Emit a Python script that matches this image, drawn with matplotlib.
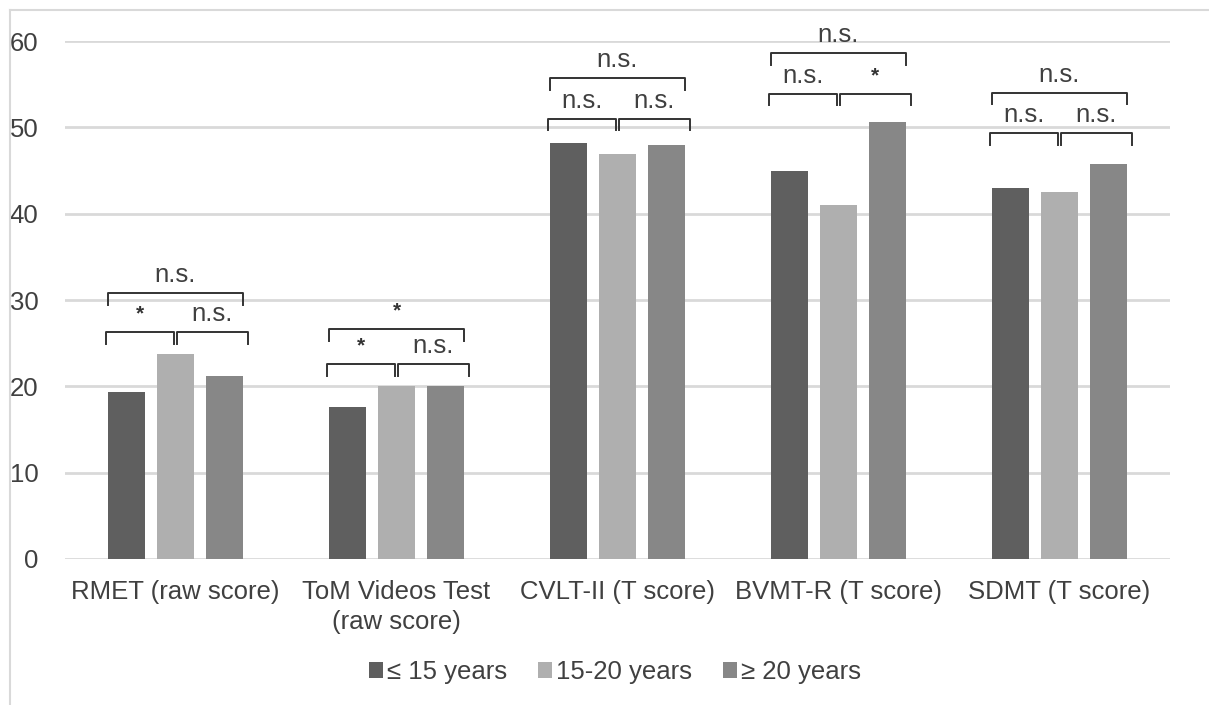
import matplotlib.pyplot as plt
import numpy as np
from matplotlib.lines import Line2D

categories = ["RMET (raw score)", "ToM Videos Test\n(raw score)", "CVLT-II (T score)",
              "BVMT-R (T score)", "SDMT (T score)"]
groups = ["≤ 15 years", "15-20 years", "≥ 20 years"]
low = [19.4, 17.6, 48.2, 44.9, 43.0]
mid = [23.8, 20.0, 46.9, 41.0, 42.5]
high = [21.2, 20.0, 48.0, 50.6, 45.8]

# significance labels: (dark vs light, light vs mid, dark vs mid)
sig_left = ["*", "*", "n.s.", "n.s.", "n.s."]
sig_right = ["n.s.", "n.s.", "n.s.", "*", "n.s."]
sig_top = ["n.s.", "*", "n.s.", "n.s.", "n.s."]
# bracket levels
lvl_low = [26.3, 22.6, 51.0, 53.9, 49.3]
lvl_top = [30.8, 26.6, 55.7, 58.6, 54.0]

colors = ["#5f5f5f", "#afafaf", "#878787"]
txt = "#404040"

plt.rcParams['font.family'] = ['Liberation Sans', 'DejaVu Sans']

fig = plt.figure(figsize=(12.09, 7.05), dpi=100)
ax = fig.add_axes([65/1209, 1-559/705, 1105/1209, 518/705])

x = np.arange(len(categories))
w = 0.168
off = 0.222
for i, vals in enumerate([low, mid, high]):
    ax.bar(x + (i-1)*off, vals, w, color=colors[i], label=groups[i], zorder=3)

ax.set_xlim(-0.5, 4.5)
ax.set_ylim(0, 60)
ax.set_yticks(range(0, 61, 10))
ax.yaxis.grid(True, color="#d9d9d9", linewidth=2, zorder=0)
ax.set_axisbelow(True)
for s in ax.spines.values():
    s.set_visible(False)
ax.tick_params(axis='both', length=0, labelsize=18.5, labelcolor=txt)
ax.tick_params(axis='y', pad=19)
ax.tick_params(axis='x', pad=15)
ax.set_xticks(x)
ax.set_xticklabels(categories, linespacing=1.35)

hb = 1.35
def bracket(x0, x1, y, label):
    ax.plot([x0, x0, x1, x1], [y-hb, y, y, y-hb], color="#333333", lw=1.4,
            clip_on=False, zorder=4)
    if label == "*":
        ax.text((x0+x1)/2, y+1.0, "*", ha='center', va='bottom', fontsize=15,
                color="#333333", fontweight='bold', clip_on=False)
    else:
        ax.text((x0+x1)/2, y+0.7, label, ha='center', va='bottom', fontsize=18.5,
                color=txt, clip_on=False)

for i in range(len(categories)):
    xd, xl, xm = x[i]-off, x[i], x[i]+off
    bracket(xd - w/2 - 0.01, xl - 0.005, lvl_low[i], sig_left[i])
    bracket(xl + 0.005, xm + w/2 + 0.02, lvl_low[i], sig_right[i])
    bracket(xd - w/2, xm + w/2, lvl_top[i], sig_top[i])

ax.legend(loc='center', bbox_to_anchor=(615/1209, (705-672)/705), bbox_transform=fig.transFigure,
          ncol=3, frameon=False, fontsize=18.5, labelcolor=txt, handlelength=0.55,
          handleheight=0.55, handletextpad=0.15, columnspacing=1.2)

fig.add_artist(Line2D([10/1209, 10/1209], [0, 1-10/705], color="#d9d9d9", lw=1.5))
fig.add_artist(Line2D([10/1209, 1], [1-10/705, 1-10/705], color="#d9d9d9", lw=1.5))

fig.savefig("out.png", dpi=100)
